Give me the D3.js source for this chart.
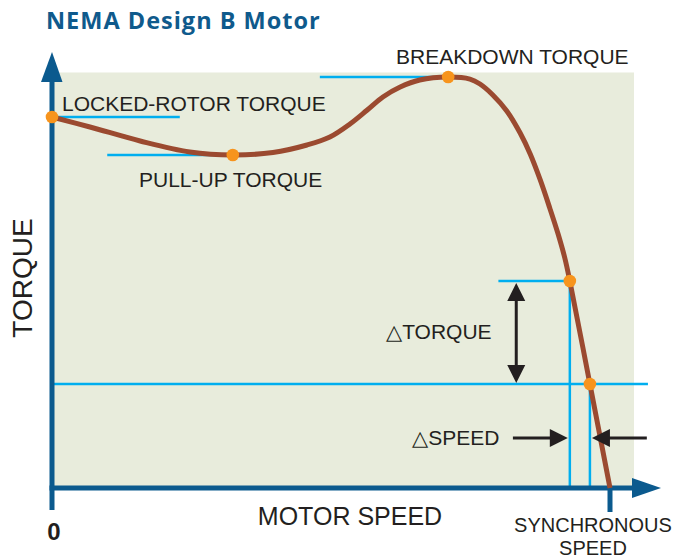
<!DOCTYPE html>
<html>
<head>
<meta charset="utf-8">
<script src="https://cdn.jsdelivr.net/npm/d3@7"></script>
<style>
  body { margin: 0; background: #fff; }
  svg { display: block; }
  text { font-family: "Liberation Sans", Arial, sans-serif; fill: #231f20; }
</style>
</head>
<body>
<svg id="chart" width="679" height="558"></svg>
<script>
// speed in % of synchronous speed, torque in arbitrary units (schematic curve)
const curveSpeed = [0, 6.8, 15.8, 24.7, 32.4, 39.6, 45.7, 49.8, 53.4, 56.5, 59.3, 62.4, 65.9, 71.0, 74.9, 76.7, 79.0, 81.5, 83.9, 85.7, 87.5, 89.2, 90.7, 91.9, 92.8, 96.4, 100];
const curveTorque = [350.0, 340.6, 327.4, 317.0, 314.2, 316.5, 323.6, 331.1, 343.4, 356.6, 368.9, 378.3, 384.9, 387.7, 385.8, 381.1, 370.8, 355.7, 334.9, 315.1, 290.6, 264.2, 239.6, 217.0, 195.3, 98.1, 0];

// highlighted points on the curve
const pointSpeed = [0, 32.4, 71.0, 92.8, 96.4];
const pointTorque = [350.0, 314.2, 387.7, 195.3, 98.1];

// horizontal guide lines (speed range), one per point
const guideStart = [0, 9.9, 48, 80, 0];
const guideEnd = [22.9, 32.4, 71.0, 92.8, 106.8];

const svg = d3.select("#chart");

const x = d3.scaleLinear().domain([0, 100]).range([52, 610]);
const y = d3.scaleLinear().domain([0, 400]).range([488, 64]);

const axisBlue = "#0b5a8e";
const cyan = "#00aeef";
const ink = "#231f20";

// title
svg.append("text")
  .attr("x", 46).attr("y", 29)
  .style("font-family", "'Open Sans', 'Liberation Sans', sans-serif")
  .style("font-weight", "bold")
  .style("font-size", "23.5px")
  .style("letter-spacing", "1px")
  .style("fill", "#0f5a8c")
  .text("NEMA Design B Motor");

// plot background
svg.append("rect")
  .attr("x", x(0)).attr("y", y(392))
  .attr("width", x(104.3) - x(0))
  .attr("height", y(0) - y(392))
  .attr("fill", "#e8ecdc");

// guide lines
const guides = svg.append("g").attr("stroke", cyan).attr("stroke-width", 2.5);
pointSpeed.forEach((s, i) => {
  guides.append("line")
    .attr("x1", x(guideStart[i])).attr("x2", x(guideEnd[i]))
    .attr("y1", y(pointTorque[i])).attr("y2", y(pointTorque[i]));
});
[3, 4].forEach(i => {
  guides.append("line")
    .attr("x1", x(pointSpeed[i])).attr("x2", x(pointSpeed[i]))
    .attr("y1", y(pointTorque[i])).attr("y2", y(0));
});

// axes
const axes = svg.append("g").attr("stroke", axisBlue).attr("stroke-width", 5);
axes.append("line").attr("x1", x(0)).attr("x2", x(0)).attr("y1", 510).attr("y2", 80);
axes.append("line").attr("x1", x(0) - 2.5).attr("x2", 634).attr("y1", y(0)).attr("y2", y(0));
axes.append("line").attr("x1", x(100)).attr("x2", x(100)).attr("y1", y(0)).attr("y2", 512);
svg.append("path")
  .attr("d", `M${x(0) - 11},82 L${x(0) + 10.5},82 L${x(0)},52 Z`)
  .attr("fill", axisBlue);
svg.append("path")
  .attr("d", `M632,${y(0) - 10} L632,${y(0) + 10} L661,${y(0)} Z`)
  .attr("fill", axisBlue);

// torque-speed curve
const line = d3.line()
  .x((d, i) => x(curveSpeed[i]))
  .y(d => y(d))
  .curve(d3.curveCatmullRom.alpha(0.5));

svg.append("path")
  .datum(curveTorque)
  .attr("d", line)
  .attr("fill", "none")
  .attr("stroke", "#9b4a30")
  .attr("stroke-width", 5);

svg.selectAll("circle.pt")
  .data(pointSpeed)
  .enter().append("circle")
  .attr("class", "pt")
  .attr("cx", d => x(d))
  .attr("cy", (d, i) => y(pointTorque[i]))
  .attr("r", 6.3)
  .attr("fill", "#f7941d");

// arrows
function arrowHead(g, tipX, tipY, dir) {
  // dir: "up", "down", "left", "right"
  const L = 18, W = 9;
  let p;
  if (dir === "up") p = [[tipX, tipY], [tipX - W, tipY + L], [tipX + W, tipY + L]];
  if (dir === "down") p = [[tipX, tipY], [tipX - W, tipY - L], [tipX + W, tipY - L]];
  if (dir === "right") p = [[tipX, tipY], [tipX - L, tipY - W], [tipX - L, tipY + W]];
  if (dir === "left") p = [[tipX, tipY], [tipX + L, tipY - W], [tipX + L, tipY + W]];
  g.append("path").attr("d", "M" + p.join("L") + "Z").attr("fill", ink);
}

const arrows = svg.append("g");
const dtX = x(83.2);
arrows.append("line")
  .attr("x1", dtX).attr("x2", dtX)
  .attr("y1", y(pointTorque[3]) + 10).attr("y2", y(pointTorque[4]) - 10)
  .attr("stroke", ink).attr("stroke-width", 3);
arrowHead(arrows, dtX, y(pointTorque[3]) + 2, "up");
arrowHead(arrows, dtX, y(pointTorque[4]) - 1, "down");

const dsY = y(47.2);
arrows.append("line")
  .attr("x1", x(82.6)).attr("x2", x(pointSpeed[3]) - 12)
  .attr("y1", dsY).attr("y2", dsY)
  .attr("stroke", ink).attr("stroke-width", 3);
arrowHead(arrows, x(pointSpeed[3]) - 2, dsY, "right");
arrows.append("line")
  .attr("x1", x(106.6)).attr("x2", x(pointSpeed[4]) + 12)
  .attr("y1", dsY).attr("y2", dsY)
  .attr("stroke", ink).attr("stroke-width", 3);
arrowHead(arrows, x(pointSpeed[4]) + 2, dsY, "left");

// labels
const labelSize = "21px";
svg.append("text").attr("x", 62).attr("y", 111).style("font-size", labelSize).text("LOCKED-ROTOR TORQUE");
svg.append("text").attr("x", 139).attr("y", 187).style("font-size", labelSize).text("PULL-UP TORQUE");
svg.append("text").attr("x", 396).attr("y", 64).style("font-size", labelSize).text("BREAKDOWN TORQUE");
svg.append("text").attr("x", 386).attr("y", 339).style("font-size", labelSize)
  .html('<tspan style="font-family:\'DejaVu Sans\'">△</tspan>TORQUE');
svg.append("text").attr("x", 412).attr("y", 445).style("font-size", labelSize)
  .html('<tspan style="font-family:\'DejaVu Sans\'">△</tspan>SPEED');

svg.append("text")
  .attr("transform", "translate(32,278) rotate(-90)")
  .attr("text-anchor", "middle")
  .style("font-size", "28px")
  .text("TORQUE");

svg.append("text")
  .attr("x", 350).attr("y", 525)
  .attr("text-anchor", "middle")
  .style("font-size", "25px")
  .text("MOTOR SPEED");

svg.append("text")
  .attr("x", 54).attr("y", 540)
  .attr("text-anchor", "middle")
  .style("font-size", "24px")
  .style("font-weight", "bold")
  .text("0");

svg.append("text")
  .attr("x", 593).attr("y", 532)
  .attr("text-anchor", "middle")
  .style("font-size", "20px")
  .text("SYNCHRONOUS");
svg.append("text")
  .attr("x", 593).attr("y", 554.5)
  .attr("text-anchor", "middle")
  .style("font-size", "20px")
  .text("SPEED");
</script>
</body>
</html>
